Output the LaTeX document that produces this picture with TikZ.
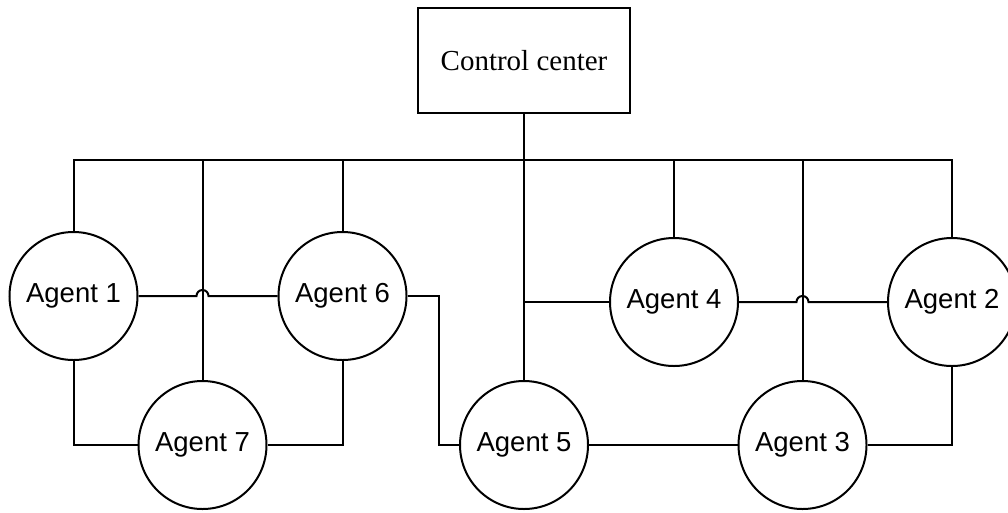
\documentclass[tikz,border=0pt]{standalone}
\usepackage{fontspec}
\setmainfont{Liberation Serif}
\newfontfamily\agentfont{Liberation Sans}
\usetikzlibrary{calc}
\begin{document}
\begin{tikzpicture}[x=1pt,y=-1pt,line width=2pt,
  agent/.style={draw,circle,inner sep=0pt,minimum size=128pt,font=\agentfont\fontsize{27.5}{30}\selectfont},
  ccbox/.style={draw,rectangle,inner sep=0pt,minimum width=212pt,minimum height=105pt,font=\fontsize{29}{32}\selectfont},
  link/.style={draw,line width=2pt}]
\useasboundingbox (0,0) rectangle (1008,512);
\node[ccbox] (cc) at (524,60.5) {Control center};
\node[agent] (A1) at (73.5,296) {Agent 1};
\node[agent] (A6) at (342.5,296) {Agent 6};
\node[agent] (A7) at (202.5,445) {Agent 7};
\node[agent] (A5) at (524,445) {Agent 5};
\node[agent] (A4) at (674,302) {Agent 4};
\node[agent] (A3) at (802.5,445) {Agent 3};
\node[agent] (A2) at (952,302) {Agent 2};
\coordinate (bus) at (524,160);
\coordinate (k) at (439,370);
% bus
\draw[link] (A1.north) |- (bus) -| (A2.north);
\draw[link] (cc.south) -- (A5.north);
\draw[link] (A6.north) -- (A6.north |- bus);
\draw[link] (A4.north) -- (A4.north |- bus);
\draw[link] (A7.north |- bus) -- (A7.north);
\draw[link] (A3.north |- bus) -- (A3.north);
% lateral links with jumps
\draw[link] (A1.east) -- ($(A7.north |- A1.east)+(-6,0)$) arc (180:360:6) -- (A6.west);
\draw[link] (A4.east) -- ($(A3.north |- A4.east)+(-6,0)$) arc (180:360:6) -- (A2.west);
\draw[link] (A4.west) -- (cc.south |- A4.west);
\draw[link] (A1.south) |- (A7.west);
\draw[link] (A7.east) -| (A6.south);
\draw[link] (A6.east) -| (k) |- (A5.west);
\draw[link] (A5.east) -- (A3.west);
\draw[link] (A3.east) -| (A2.south);
\end{tikzpicture}
\end{document}
